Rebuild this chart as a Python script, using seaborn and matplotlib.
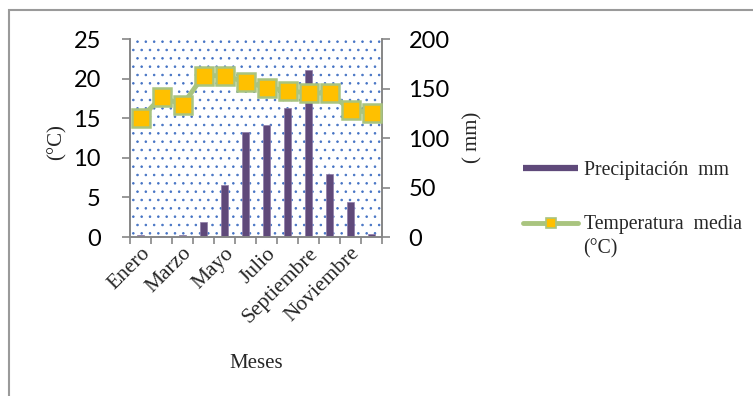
import numpy as np
import pandas as pd
import matplotlib
matplotlib.use("Agg")
import matplotlib.pyplot as plt
import seaborn as sns
from matplotlib.lines import Line2D
from matplotlib.patches import Rectangle

months = ["Enero", "Febrero", "Marzo", "Abril", "Mayo", "Junio", "Julio",
          "Agosto", "Septiembre", "Octubre", "Noviembre", "Diciembre"]
precip_mm = [2, 1, 2, 15.5, 52.6, 106.5, 113, 130, 169, 64, 35.7, 2.7]
temp_c = [15.0, 17.7, 16.7, 20.4, 20.4, 19.6, 18.9, 18.5, 18.2, 18.2, 16.1, 15.7]
shown_labels = ["Enero", "Marzo", "Mayo", "Julio", "Septiembre", "Noviembre"]
left_ticks = [0, 5, 10, 15, 20, 25]
right_ticks = [0, 50, 100, 150, 200]

df = pd.DataFrame({"mes": months, "precip": precip_mm, "temp": temp_c})

sns.set_style("white")
plt.rcParams["hatch.linewidth"] = 0.6
SERIF = ["Liberation Serif", "DejaVu Serif"]
SANS = ["Lato", "DejaVu Sans"]
GRAY = "#868686"
PURPLE = "#5F497A"
GREEN = "#A9C47F"
YELLOW = "#FFC000"

fig = plt.figure(figsize=(7.53, 3.96), dpi=100)
fig.patch.set_facecolor("white")
ax = fig.add_axes([130 / 753, 1 - 237 / 396, 252 / 753, 197.7 / 396])
ax2 = ax.twinx()

# temperature line (left axis)
sns.lineplot(data=df, x="mes", y="temp", ax=ax, sort=False, color=GREEN,
             linewidth=3.5, marker="s", markersize=13.5, markerfacecolor=YELLOW,
             markeredgecolor=GREEN, markeredgewidth=1.8, zorder=5)
# precipitation bars (right axis)
sns.barplot(data=df, x="mes", y="precip", ax=ax2, color=PURPLE, width=0.38,
            saturation=1, edgecolor="#8E7CA8", linewidth=0.5)

# layering: line axis on top, dotted background on the bar axis
ax.set_zorder(ax2.get_zorder() + 1)
ax.patch.set_visible(False)
ax2.patch.set_visible(True)
ax2.patch.set_facecolor("white")
ax2.patch.set_edgecolor("#4472C4")
ax2.patch.set_linewidth(0)
ax2.patch.set_hatch("..")

for a in (ax, ax2):
    a.set_xlim(-0.5, len(months) - 0.5)
    for s in a.spines.values():
        s.set_color(GRAY)
        s.set_linewidth(1.2)
    a.spines["top"].set_visible(False)
    a.set_xlabel("")
    a.set_ylabel("")

ax.set_ylim(0, 25)
ax2.set_ylim(0, 200)
ax.set_yticks(left_ticks)
ax.set_yticklabels([str(v) for v in left_ticks], fontfamily=SANS, fontsize=17)
ax2.set_yticks(right_ticks)
ax2.set_yticklabels([str(v) for v in right_ticks], fontfamily=SANS, fontsize=17)
ax.tick_params(axis="y", direction="out", length=6, width=1.2, color=GRAY,
               pad=15, left=True, labelcolor="black")
ax2.tick_params(axis="y", direction="out", length=6, width=1.2, color=GRAY,
                pad=13, right=True, labelcolor="black")

# x axis: boundary ticks as minor, labels at every other category
pos = {m: i for i, m in enumerate(months)}
ax.set_xticks([pos[m] for m in shown_labels])
ax.set_xticklabels(shown_labels, fontfamily=SERIF, fontsize=15.5, rotation=45,
                   ha="right", va="top", rotation_mode="anchor")
ax.set_xticks(np.arange(-0.5, len(months), 1.0), minor=True)
ax.tick_params(axis="x", which="major", length=0, pad=5)
ax.tick_params(axis="x", which="minor", direction="out", length=5, width=1.2,
               color=GRAY, bottom=True)
ax2.tick_params(axis="x", which="both", bottom=False, labelbottom=False)

ax.set_xlabel("Meses", fontfamily=SERIF, fontsize=15)
ax.xaxis.set_label_coords(0.5, -0.64)
ax.xaxis.label.set_va("center")

ax.set_ylabel("(°C)", fontfamily=SERIF, fontsize=15)
ax.yaxis.set_label_coords(-0.29, 0.48)
ax.yaxis.label.set_va("center")
ax2.set_ylabel("( mm)", fontfamily=SERIF, fontsize=15, rotation=90)
ax2.yaxis.set_label_coords(1.36, 0.506)
ax2.yaxis.label.set_va("center")

# legend
h_bar = Line2D([], [], color=PURPLE, linewidth=4.5, solid_capstyle="butt")
h_line = Line2D([], [], color=GREEN, linewidth=3.5, marker="s", markersize=7,
                markerfacecolor=YELLOW, markeredgecolor=GREEN, markeredgewidth=1.2,
                solid_capstyle="round")
leg = fig.legend([h_bar, h_line], ["Precipitación  mm", "Temperatura  media"],
                 loc="upper left", bbox_to_anchor=(523 / 753, 1 - 161 / 396),
                 frameon=False, prop={"family": SERIF, "size": 14.2},
                 handlelength=2.8, handletextpad=0.3, labelspacing=1.8,
                 borderpad=0, borderaxespad=0)
fig.text(583 / 753, 1 - 249 / 396, "(°C)", fontfamily=SERIF, fontsize=14.2,
         ha="left", va="center")

# outer chart frame
fig.add_artist(Rectangle((9 / 753, -0.1), 1.2, 1.1 - 10 / 396,
                         transform=fig.transFigure, fill=False,
                         edgecolor="#9A9A9A", linewidth=1.5, clip_on=False))

fig.savefig("out.png", dpi=100)
